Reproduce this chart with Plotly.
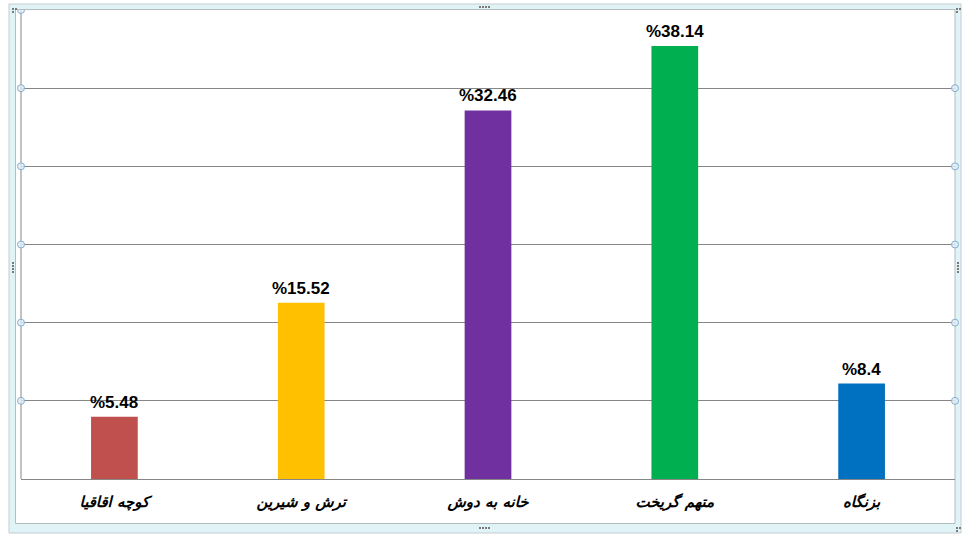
import plotly.graph_objects as go

# Data
categories = ["کوچه اقاقیا", "ترش و شیرین", "خانه به دوش", "متهم گریخت", "بزنگاه"]
values = [5.48, 15.52, 32.46, 38.14, 8.4]
colors = ["#C0504D", "#FFC000", "#7030A0", "#00B050", "#0070C0"]

# Value axis: hidden labels, six equal gridline bands
y_max = 41.3
n_bands = 6
grid_vals = [y_max * k / n_bands for k in range(n_bands + 1)]

W, H = 969, 539
L, R, T, B = 21, 14, 10, 60
plot_w = W - L - R
plot_h = H - T - B


def px_x(px):
    return (px - L) / plot_w


def px_y(py):
    return (H - B - py) / plot_h


fig = go.Figure()
fig.add_trace(go.Bar(
    x=categories,
    y=values,
    marker=dict(color=colors, line=dict(width=0)),
    width=0.25,
    hoverinfo="skip",
))

# Value labels above each bar
for c, v in zip(categories, values):
    fig.add_annotation(
        x=c, y=v, xref="x", yref="y",
        text=f"<b>%{v}</b>",
        showarrow=False, yanchor="bottom", yshift=3,
        font=dict(family="Liberation Sans", size=17, color="#000000"),
    )

shapes = []
# Chart frame (outer light border and white inner area)
shapes.append(dict(type="rect", xref="paper", yref="paper", layer="below",
                   x0=px_x(9), x1=px_x(961), y0=px_y(533), y1=px_y(4),
                   line=dict(color="#C5CDD1", width=1), fillcolor="#E0F4F7"))
shapes.append(dict(type="rect", xref="paper", yref="paper", layer="below",
                   x0=px_x(15.5), x1=px_x(955), y0=px_y(523.5), y1=px_y(9.5),
                   line=dict(color="#B4BCC0", width=1), fillcolor="#FFFFFF"))
# Left axis line
shapes.append(dict(type="line", xref="paper", yref="paper",
                   x0=0, x1=0, y0=0, y1=1,
                   line=dict(color="#868686", width=1)))

# Selection handles at gridline ends
for k, gv in enumerate(grid_vals[1:], start=1):
    ends = [0, 1] if k < n_bands else [0]
    for xe in ends:
        shapes.append(dict(type="circle", xref="paper", yref="y",
                           xsizemode="pixel", ysizemode="pixel",
                           xanchor=xe, yanchor=gv,
                           x0=-3.5, x1=3.5, y0=-3.5, y1=3.5,
                           line=dict(color="#86AECF", width=1),
                           fillcolor="rgba(225,238,248,0.8)"))

# Frame grip dots
def dots(cx, cy, vertical):
    out = []
    for i in range(4):
        dx, dy = (0, i * 3) if vertical else (i * 3, 0)
        out.append(dict(type="rect", xref="paper", yref="paper",
                        x0=px_x(cx + dx), x1=px_x(cx + dx + 2),
                        y0=px_y(cy + dy + 2), y1=px_y(cy + dy),
                        line=dict(width=0), fillcolor="#7A7A7A"))
    return out


shapes += dots(479, 6, False)
shapes += dots(479, 527, False)
shapes += dots(12, 262, True)
shapes += dots(957, 262, True)
for cx, cy in [(12, 8), (956, 8), (956, 527)]:
    for dx, dy in [(0, 0), (3, 0), (0, 3)]:
        shapes.append(dict(type="rect", xref="paper", yref="paper",
                           x0=px_x(cx + dx), x1=px_x(cx + dx + 2),
                           y0=px_y(cy + dy + 2), y1=px_y(cy + dy),
                           line=dict(width=0), fillcolor="#7A7A7A"))

fig.update_layout(
    width=W, height=H,
    margin=dict(l=L, r=R, t=T, b=B),
    paper_bgcolor="#FFFFFF",
    plot_bgcolor="rgba(0,0,0,0)",
    showlegend=False,
    bargap=0.75,
    shapes=shapes,
    xaxis=dict(
        showgrid=False, zeroline=False,
        showline=True, linecolor="#868686", linewidth=1,
        ticks="", ticklabelstandoff=9,
        tickfont=dict(family="DejaVu Sans", size=15, color="#000000",
                      weight="bold", style="italic"),
        fixedrange=True,
    ),
    yaxis=dict(
        range=[0, y_max],
        tickvals=grid_vals,
        showticklabels=False,
        showgrid=True, gridcolor="#868686", gridwidth=1,
        zeroline=False, showline=False, ticks="",
        fixedrange=True,
    ),
)

fig.write_html("out.html")
